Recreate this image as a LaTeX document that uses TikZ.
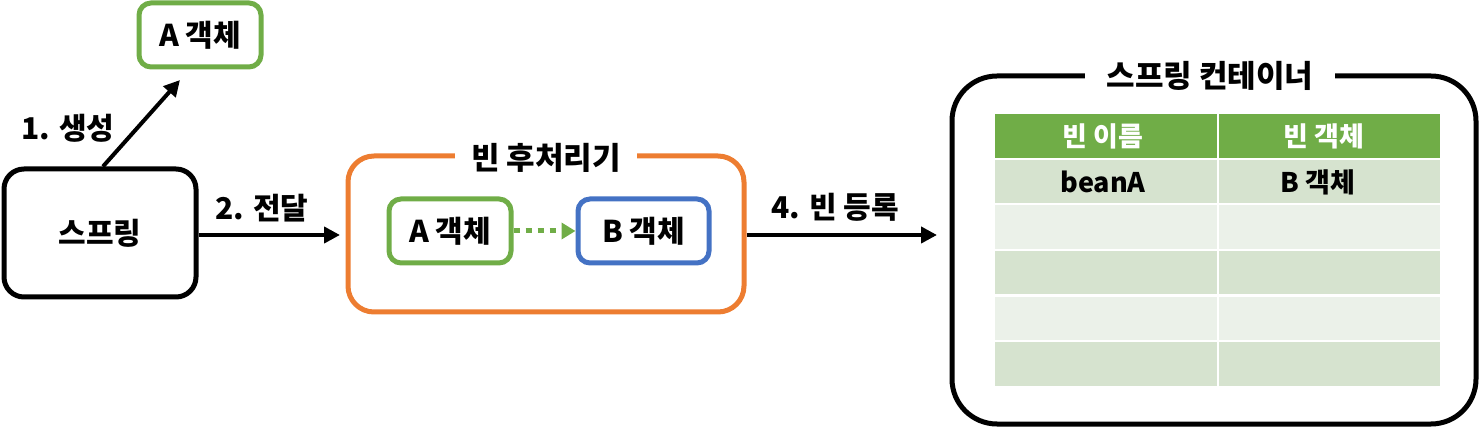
\documentclass[tikz,border=0pt]{standalone}
\usepackage{fontspec}
\setmainfont{Noto Sans CJK KR}
\usetikzlibrary{arrows.meta,calc}
\definecolor{cgreen}{HTML}{70AD47}
\definecolor{corange}{HTML}{ED7D31}
\definecolor{cblue}{HTML}{4472C4}
\definecolor{rowdark}{HTML}{D6E3CF}
\definecolor{rowlight}{HTML}{EBF1E9}
\tikzset{
  lbl/.style={font=\fontsize{30}{32}\selectfont\bfseries, inner sep=0pt},
  box/.style={draw, line width=5pt, rounded corners=#1, inner sep=0pt, font=\fontsize{30}{32}\selectfont\bfseries},
  box/.default=12pt,
  arr/.style={line width=4pt, -{Triangle[length=16pt,width=16pt]}},
  titlebg/.style={fill=white, inner xsep=16pt, inner ysep=2pt, font=\fontsize{31}{33}\selectfont\bfseries},
  cell/.style={font=\fontsize{27}{29}\selectfont\bfseries, inner sep=0pt},
}
\begin{document}
\begin{tikzpicture}[x=1pt,y=-1pt]
\useasboundingbox (0,0) rectangle (1480,427);
% top A object
\node[box, draw=cgreen, minimum width=122pt, minimum height=64pt] (atop) at (200,35) {A 객체};
% spring
\node[box=20pt, minimum width=192pt, minimum height=128pt] (spring) at (100,233) {스프링};
% bean post processor
\node[box=26pt, draw=corange, minimum width=396pt, minimum height=156pt] (bpp) at (546,234) {};
\node[titlebg] (bpptitle) at (546,158) {빈 후처리기};
\node[box, draw=cgreen, minimum width=122pt, minimum height=64pt] (ain) at (450,231) {A 객체};
\node[box, draw=cblue, minimum width=131pt, minimum height=64pt] (bin) at (643.5,231) {B 객체};
% container
\node[box=45pt, minimum width=524pt, minimum height=348pt] (cont) at (1214,250) {};
\node[titlebg, inner xsep=22pt] (conttitle) at (1210,76) {스프링 컨테이너};
% table
\fill[cgreen] (995,114) rectangle (1217,158);
\fill[cgreen] (1219,114) rectangle (1440,158);
\foreach \ya/\yb/\c in {160/203/rowdark,205/249/rowlight,251/294/rowdark,297/340/rowlight,342/386/rowdark}{
  \fill[\c] (995,\ya) rectangle (1217,\yb);
  \fill[\c] (1219,\ya) rectangle (1440,\yb);
}
\node[cell, text=white] (h1) at (1103,136) {빈 이름};
\node[cell, text=white] (h2) at (1324,136) {빈 객체};
\node[cell] (c1) at (1103,182) {beanA};
\node[cell] (c2) at (1318,182) {B 객체};
% arrows
\coordinate (genend) at (180,80);
\draw[arr] ($(spring.north west)!0.515!(spring.north east)$) -- (genend);
\node[lbl] (l1) at (68,128) {1. 생성};
\coordinate (s2) at (spring.east |- 0,235);
\coordinate (e2) at (340,235);
\draw[arr] (s2) -- (e2);
\node[lbl] (l2) at (262,208) {2. 전달};
\draw[line width=5pt, cgreen, dash pattern=on 6pt off 6pt, -{Triangle[length=14pt,width=16pt]}] (ain.east) -- (bin.west);
\coordinate (s4) at (bpp.east |- 0,235);
\coordinate (e4) at (937,235);
\draw[arr] (s4) -- (e4);
\node[lbl] (l4) at (835,207) {4. 빈 등록};
\end{tikzpicture}
\end{document}
